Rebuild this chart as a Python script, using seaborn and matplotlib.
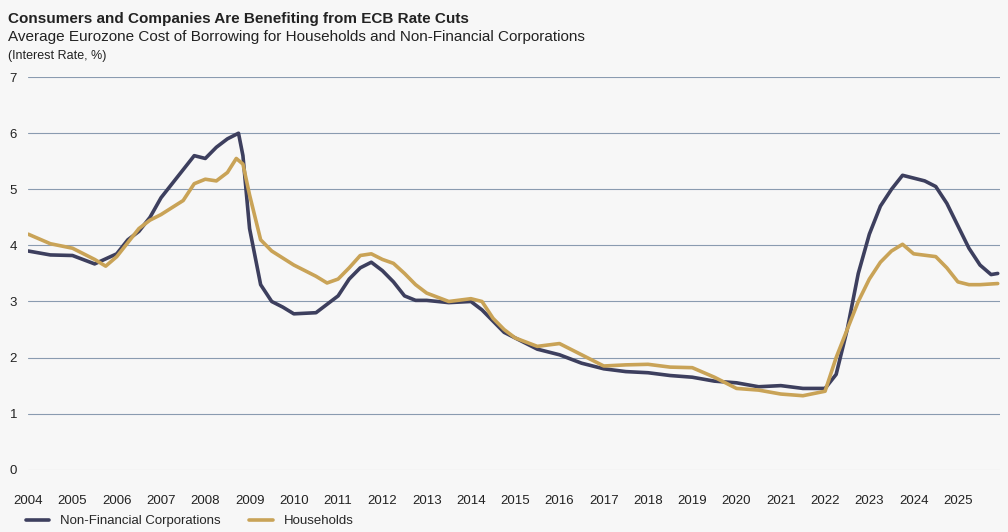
import matplotlib
matplotlib.use("Agg")
import matplotlib.pyplot as plt
import seaborn as sns
import pandas as pd

# values (year, interest rate %)
nfc_year = [2004.0, 2004.5, 2005.0, 2005.5, 2006.0, 2006.25, 2006.5, 2006.75, 2007.0, 2007.25,
            2007.5, 2007.75, 2008.0, 2008.25, 2008.5, 2008.75, 2008.85, 2009.0, 2009.25, 2009.5,
            2009.75, 2010.0, 2010.5, 2010.75, 2011.0, 2011.25, 2011.5, 2011.75, 2012.0, 2012.25,
            2012.5, 2012.75, 2013.0, 2013.5, 2014.0, 2014.25, 2014.5, 2014.75, 2015.0, 2015.5,
            2016.0, 2016.5, 2017.0, 2017.5, 2018.0, 2018.5, 2019.0, 2019.5, 2020.0, 2020.5,
            2021.0, 2021.5, 2022.0, 2022.25, 2022.5, 2022.75, 2023.0, 2023.25, 2023.5, 2023.75,
            2024.0, 2024.25, 2024.5, 2024.75, 2025.0, 2025.25, 2025.5, 2025.75, 2025.9]
nfc_rate = [3.9, 3.83, 3.82, 3.67, 3.85, 4.1, 4.25, 4.5, 4.85, 5.1,
            5.35, 5.6, 5.55, 5.75, 5.9, 6.0, 5.6, 4.3, 3.3, 3.0,
            2.9, 2.78, 2.8, 2.95, 3.1, 3.4, 3.6, 3.7, 3.55, 3.35,
            3.1, 3.02, 3.02, 2.98, 3.0, 2.85, 2.65, 2.45, 2.35, 2.15,
            2.05, 1.9, 1.8, 1.75, 1.73, 1.68, 1.65, 1.58, 1.55, 1.48,
            1.5, 1.45, 1.45, 1.7, 2.5, 3.5, 4.2, 4.7, 5.0, 5.25,
            5.2, 5.15, 5.05, 4.75, 4.35, 3.95, 3.65, 3.48, 3.5]

hh_year = [2004.0, 2004.5, 2005.0, 2005.25, 2005.5, 2005.75, 2006.0, 2006.25, 2006.5, 2006.75,
           2007.0, 2007.5, 2007.75, 2008.0, 2008.25, 2008.5, 2008.7, 2008.85, 2009.0, 2009.25,
           2009.5, 2010.0, 2010.5, 2010.75, 2011.0, 2011.25, 2011.5, 2011.75, 2012.0, 2012.25,
           2012.5, 2012.75, 2013.0, 2013.5, 2014.0, 2014.25, 2014.5, 2014.75, 2015.0, 2015.5,
           2016.0, 2016.5, 2017.0, 2017.5, 2018.0, 2018.5, 2019.0, 2019.5, 2020.0, 2020.5,
           2021.0, 2021.5, 2022.0, 2022.25, 2022.5, 2022.75, 2023.0, 2023.25, 2023.5, 2023.75,
           2024.0, 2024.5, 2024.75, 2025.0, 2025.25, 2025.5, 2025.9]
hh_rate = [4.2, 4.03, 3.95, 3.85, 3.75, 3.63, 3.8, 4.05, 4.3, 4.45,
           4.55, 4.8, 5.1, 5.18, 5.15, 5.3, 5.55, 5.45, 4.9, 4.1,
           3.9, 3.65, 3.45, 3.33, 3.4, 3.6, 3.82, 3.85, 3.75, 3.68,
           3.5, 3.3, 3.15, 3.0, 3.05, 3.0, 2.7, 2.5, 2.35, 2.2,
           2.25, 2.05, 1.85, 1.87, 1.88, 1.83, 1.82, 1.65, 1.45, 1.42,
           1.35, 1.32, 1.4, 2.0, 2.5, 3.0, 3.4, 3.7, 3.9, 4.02,
           3.85, 3.8, 3.6, 3.35, 3.3, 3.3, 3.32]

years = list(range(2004, 2026))

df = pd.concat([
    pd.DataFrame({"year": nfc_year, "rate": nfc_rate, "series": "Non-Financial Corporations"}),
    pd.DataFrame({"year": hh_year, "rate": hh_rate, "series": "Households"}),
])

sns.set_style("white")
plt.rcParams["font.family"] = ["Liberation Sans", "DejaVu Sans"]

bg = "#f7f7f7"
fig = plt.figure(figsize=(10.08, 5.32), dpi=100, facecolor=bg)
ax = fig.add_axes([0.028, 0.117, 0.964, 0.738], facecolor=bg)

for y in range(1, 8):
    ax.axhline(y, color="#8a9bb0", lw=0.8, zorder=0)
ax.axhline(0, color="#cccccc", lw=0.8, zorder=0)

sns.lineplot(data=df, x="year", y="rate", hue="series",
             palette={"Non-Financial Corporations": "#3d3f5e", "Households": "#c9a357"},
             lw=2.6, ax=ax, sort=False)

ax.set_xlim(2004, 2025.95)
ax.set_ylim(0, 7)
ax.set_xticks(years)
ax.set_xticklabels([str(y) for y in years])
ax.set_yticks(range(0, 8))
ax.tick_params(axis="both", length=0, labelsize=9.5, colors="#222222")
ax.tick_params(axis="y", pad=8)
ax.tick_params(axis="x", pad=18)
ax.set_xlabel("")
ax.set_ylabel("")
for s in ax.spines.values():
    s.set_visible(False)

ax.legend(loc="upper left", bbox_to_anchor=(-0.015, -0.085), ncol=2, frameon=False,
          fontsize=9.5, handlelength=1.8, columnspacing=2.2)

fig.text(0.008, 0.965, "Consumers and Companies Are Benefiting from ECB Rate Cuts",
         fontsize=11, fontweight="bold", color="#222222", va="center")
fig.text(0.008, 0.93, "Average Eurozone Cost of Borrowing for Households and Non-Financial Corporations",
         fontsize=11, color="#222222", va="center")
fig.text(0.008, 0.895, "(Interest Rate, %)", fontsize=9, color="#222222", va="center")

fig.savefig("out.png", dpi=100, facecolor=bg)
